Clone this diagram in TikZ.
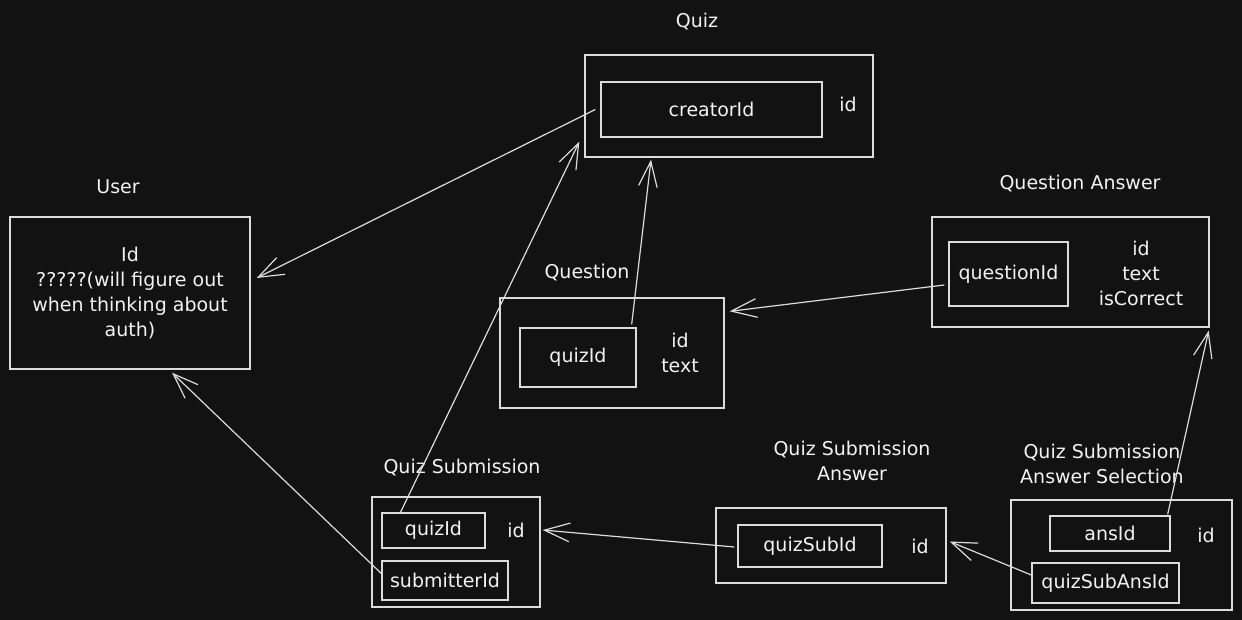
\documentclass[tikz,border=0pt]{standalone}
\usepackage{fontspec}
\setmainfont{DejaVu Sans}
\usetikzlibrary{arrows.meta,fit}
\definecolor{canvas}{HTML}{121212}
\definecolor{ink}{HTML}{DCDCDC}
\definecolor{textink}{HTML}{F2F2F2}
\tikzset{
  ent/.style={draw=ink, line width=1pt, inner sep=0pt},
  field/.style={draw=ink, line width=1pt, inner sep=0pt},
  lbl/.style={text=textink, font=\fontsize{14.25}{18.75}\selectfont, align=center, inner sep=0pt},
  link/.style={draw=ink, line width=0.9pt, -{Straight Barb[length=19pt,width=14pt,line width=0.9pt]}}
}
\begin{document}
\begin{tikzpicture}[x=0.75pt,y=-0.75pt]
\path[use as bounding box, fill=canvas] (0,0) rectangle (1242,620);

% Quiz
\node[lbl] (tquiz) at (697,22) {Quiz};
\node[ent, fit={(585,55) (873,157)}] (quiz) {};
\node[field, fit={(601,82) (822,137)}] (creator) {};
\node[lbl] at (creator.center) {creatorId};
\node[lbl] (quizid) at (848,104) {id};

% User
\node[lbl] (tuser) at (118,187) {User};
\node[ent, fit={(10,217) (250,369)}] (user) {};
\node[lbl] (userbody) at (130,293) {Id\\?????(will figure out\\when thinking about\\auth)};

% Question
\node[lbl] (tquestion) at (587,273) {Question};
\node[ent, fit={(500,298) (724,408)}] (question) {};
\node[field, fit={(520,328) (636,387)}] (qquiz) {};
\node[lbl] at (qquiz.center) {quizId};
\node[lbl] (qattrs) at (680,353) {id\\text};

% Question Answer
\node[lbl] (tqa) at (1080,184) {Question Answer};
\node[ent, fit={(932,217) (1209,327)}] (qa) {};
\node[field, fit={(949,242) (1068,306)}] (qaq) {};
\node[lbl] at (qaq.center) {questionId};
\node[lbl] (qaattrs) at (1141,273) {id\\text\\isCorrect};

% Quiz Submission
\node[lbl] (tqs) at (462,468) {Quiz Submission};
\node[ent, fit={(372,497) (540,607)}] (qs) {};
\node[field, fit={(382,513) (485,548)}] (qsquiz) {};
\node[lbl] at (qsquiz.center) {quizId};
\node[field, fit={(382,561) (508,600)}] (qsuser) {};
\node[lbl] at (qsuser.center) {submitterId};
\node[lbl] (qsid) at (516,530) {id};

% Quiz Submission Answer
\node[lbl] (tqsa) at (852,461) {Quiz Submission\\Answer};
\node[ent, fit={(716,508) (946,583)}] (qsa) {};
\node[field, fit={(738,525) (882,567)}] (qsasub) {};
\node[lbl] at (qsasub.center) {quizSubId};
\node[lbl] (qsaid) at (920,546) {id};

% Quiz Submission Answer Selection
\node[lbl] (tqsas) at (1102,464) {Quiz Submission\\Answer Selection};
\node[ent, fit={(1011,500) (1232,610)}] (qsas) {};
\node[field, fit={(1050,516) (1170,551)}] (qsasans) {};
\node[lbl] at (qsasans.center) {ansId};
\node[field, fit={(1032,563) (1179,603)}] (qsassub) {};
\node[lbl] at (qsassub.center) {quizSubAnsId};
\node[lbl] (qsasid) at (1206,535) {id};

% Relations
\draw[link] ([shift={(-5,0)}]creator.west) -- ([shift={(6,-15)}]user.east);
\draw[link] ([shift={(-33,0)}]qsquiz.north) -- ([shift={(-5,-16)}]quiz.south west);
\draw[link] ([shift={(-5,-3)}]qquiz.north east) -- ([shift={(-78,2)}]quiz.south);
\draw[link] ([shift={(-4,11)}]qaq.west) -- ([shift={(5,14)}]question.north east);
\draw[link] ([shift={(-3,-1)}]qsasans.north east) -- ([shift={(-1,3)}]qa.south east);
\draw[link] ([shift={(0,-7)}]qsuser.west) -- ([shift={(42,3)}]user.south);
\draw[link] ([shift={(-3,1)}]qsasub.west) -- ([shift={(2,-22)}]qs.east);
\draw[link] ([shift={(0,-8)}]qsassub.west) -- ([shift={(3,-4)}]qsa.east);
\end{tikzpicture}
\end{document}
